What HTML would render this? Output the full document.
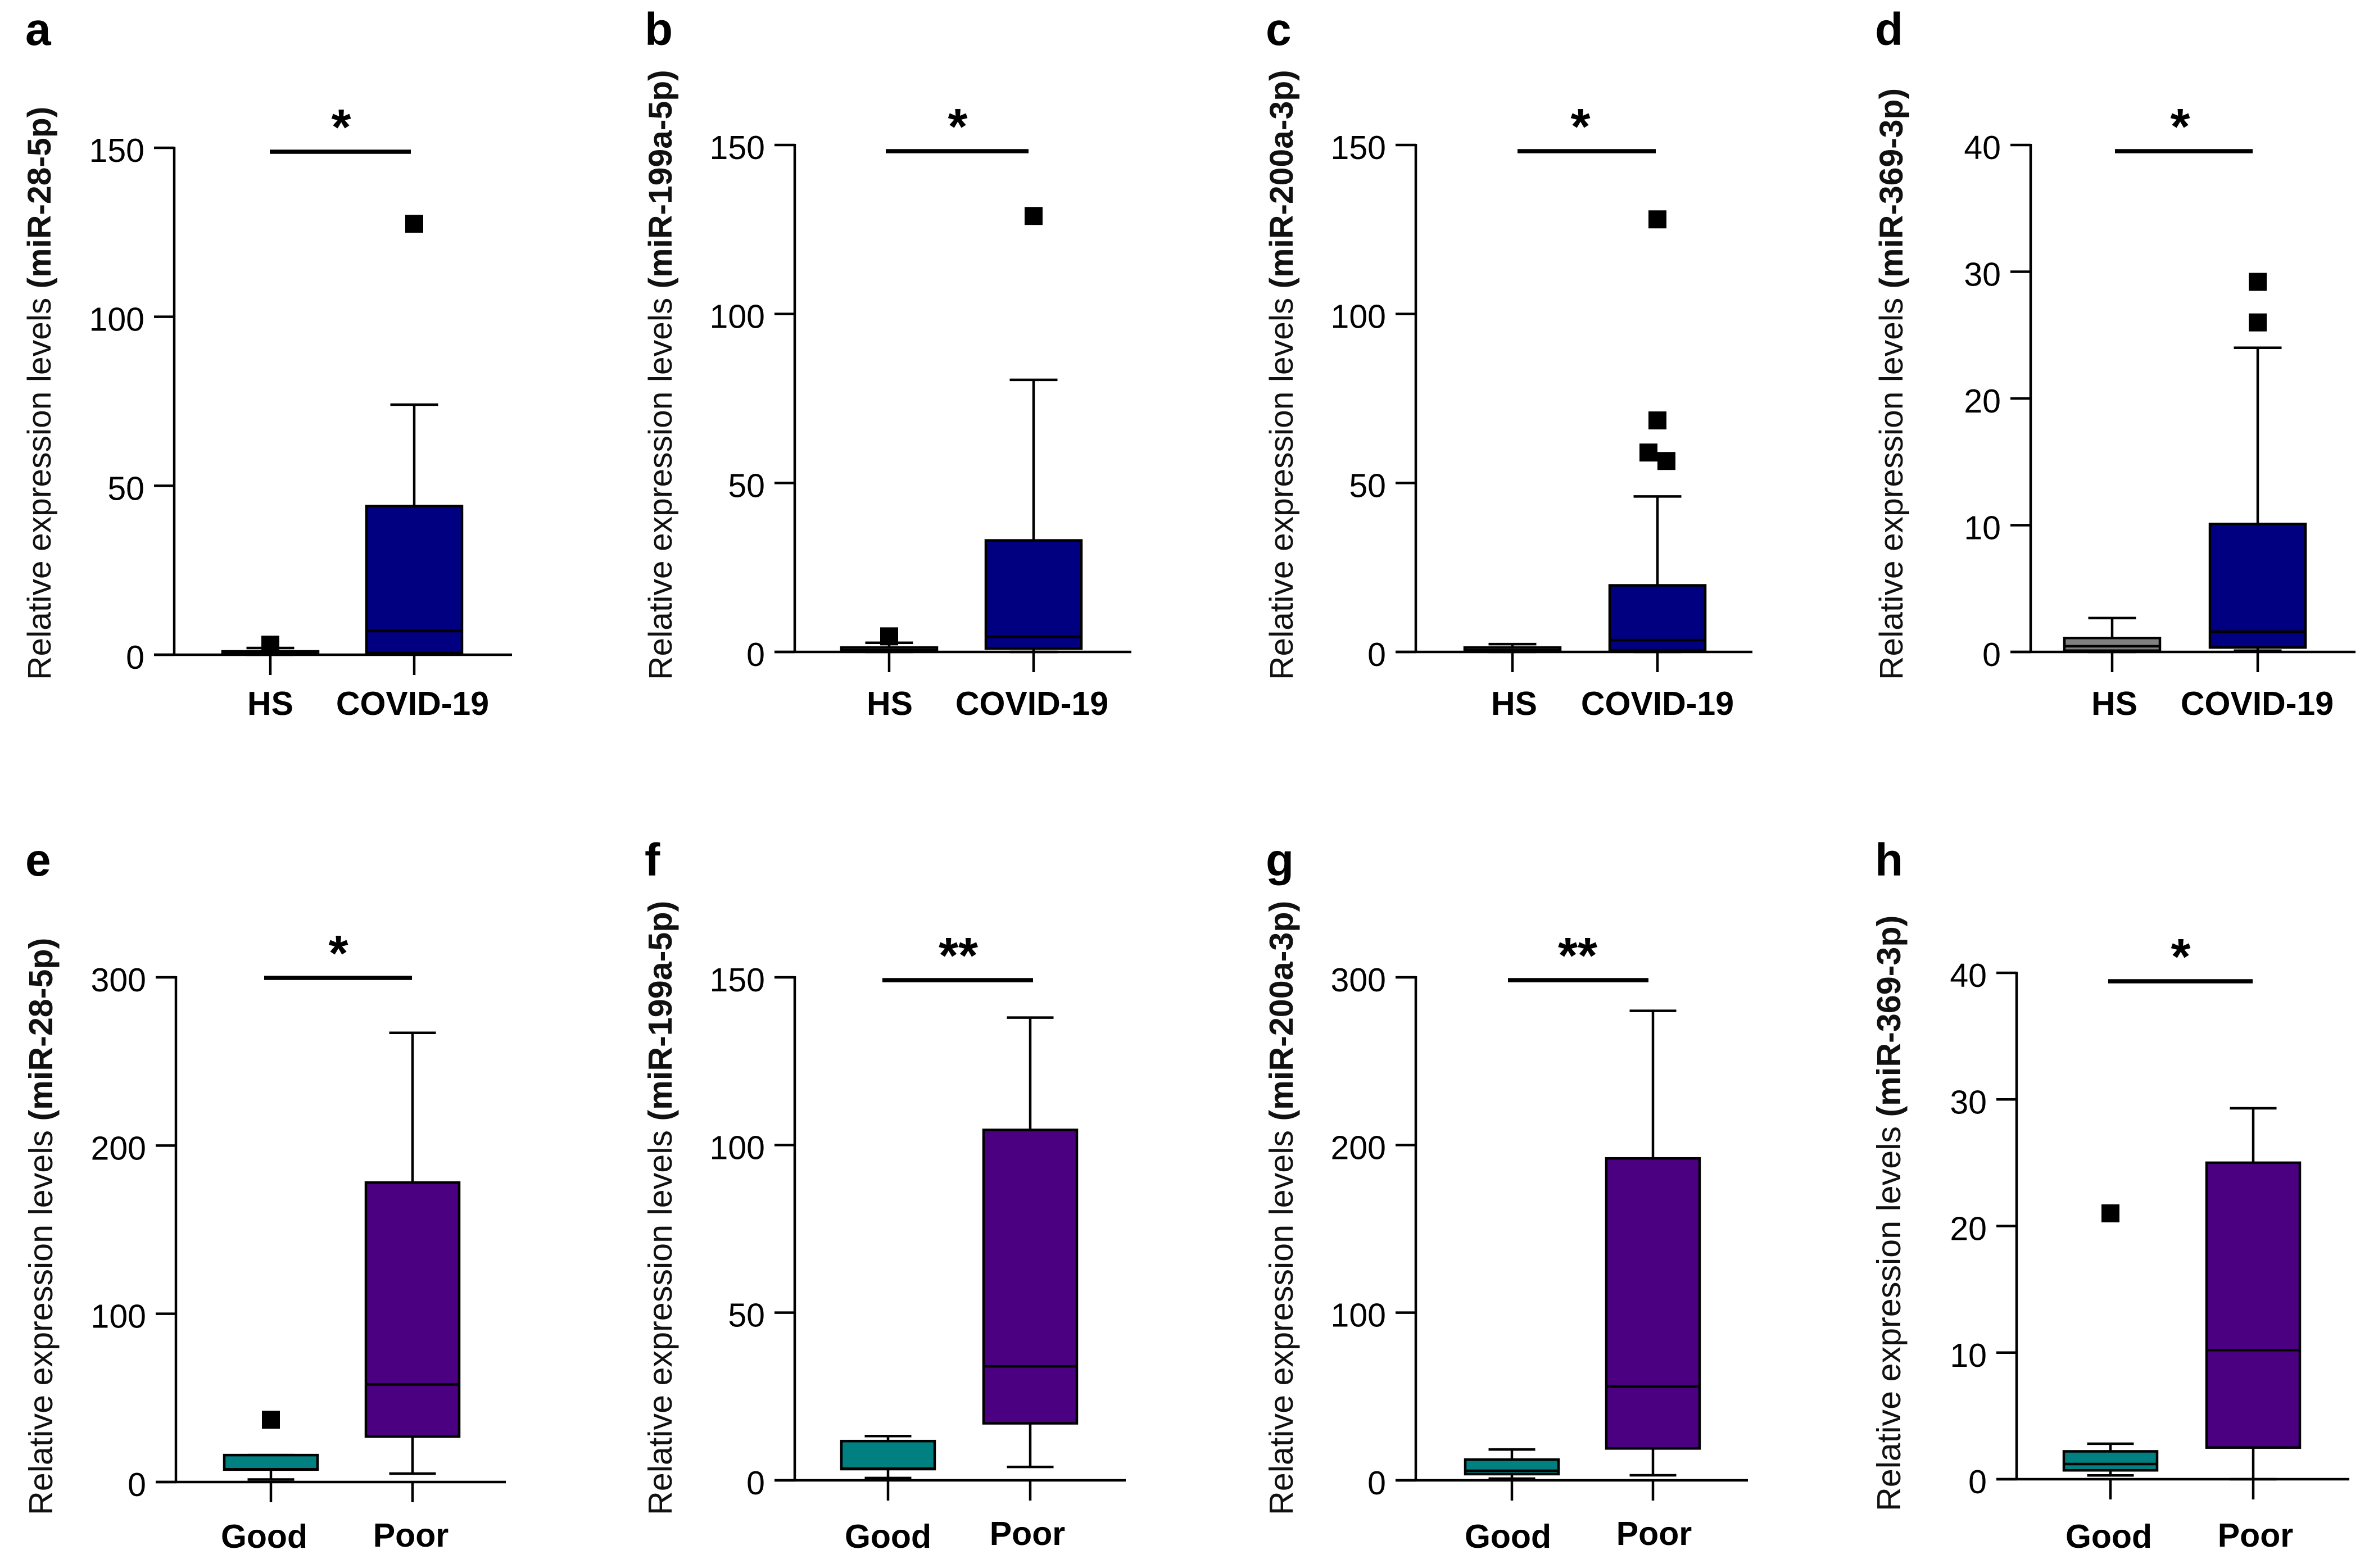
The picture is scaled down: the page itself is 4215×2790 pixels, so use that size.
<!DOCTYPE html>
<html lang="en">
<head>
<meta charset="utf-8">
<title>Relative expression levels of miRNAs</title>
<style>
html,body{margin:0;padding:0;background:#fff;width:4215px;height:2790px;overflow:hidden}
svg{display:block;font-family:"Liberation Sans",Arial,sans-serif}
</style>
</head>
<body>
<svg id="figure" xmlns="http://www.w3.org/2000/svg" width="4215" height="2790" viewBox="0 0 4215 2790"></svg>
<script>
// ---- chart data (one entry per panel, each holding [group 1, group 2]) ----
const panelLetters = ['a','b','c','d','e','f','g','h'];
const mirNames = ['miR-28-5p','miR-199a-5p','miR-200a-3p','miR-369-3p','miR-28-5p','miR-199a-5p','miR-200a-3p','miR-369-3p'];
const categories = [['HS','COVID-19'],['HS','COVID-19'],['HS','COVID-19'],['HS','COVID-19'],['Good','Poor'],['Good','Poor'],['Good','Poor'],['Good','Poor']];
const yTicks = [[0,50,100,150],[0,50,100,150],[0,50,100,150],[0,10,20,30,40],[0,100,200,300],[0,50,100,150],[0,100,200,300],[0,10,20,30,40]];
const whiskerLow = [[0,0.5],[0,0],[0,0],[0,0.1],[1.5,5],[0.7,4],[1,3],[0.3,0]];
const quartile1 = [[0.1,0.5],[0.1,1],[0.1,0.5],[0.1,0.35],[7.4,27],[3.35,17],[3.7,19],[0.7,2.5]];
const medians = [[0.5,7],[0.5,4.5],[0.5,3.5],[0.45,1.6],[7.6,58],[3.5,34],[5.7,56],[1.2,10.2]];
const quartile3 = [[1,44],[1.3,33],[1.3,19.7],[1.1,10.1],[16,178],[11.7,104.5],[12.4,192],[2.2,25]];
const whiskerHigh = [[2,74],[2.7,80.5],[2.3,46],[2.67,24],[16,267],[13.2,138],[18.4,280],[2.8,29.3]];
const outliers = [[[3],[127.5]],[[4.6],[129]],[[],[128,68.5,59,56.5]],[[],[29.2,26]],[[37],[]],[[],[]],[[],[]],[[21],[]]];
const significance = ['*','*','*','*','*','**','**','*'];

// ---- layout (pixel geometry, not data) ----
const layout = [
 {ax:310, top:263, y0:1165,right:911, c:[481,737], lx:[481,734], ly:[1272,1272],barL:480, barR:731, barY:270, star:607, tx:90,  tb:1210, fs:58.85},
 {ax:1414,top:258, y0:1160,right:2013,c:[1582,1839],lx:[1583,1836],ly:[1272,1272],barL:1576,barR:1830,barY:269,star:1704,tx:1195,tb:1210, fs:58.85},
 {ax:2519,top:258, y0:1160,right:3118,c:[2691,2949],lx:[2694,2949],ly:[1272,1272],barL:2700,barR:2946,barY:269,star:2812,tx:2300,tb:1210, fs:58.85},
 {ax:3613,top:258, y0:1160,right:4191,c:[3758,4017],lx:[3762,4016],ly:[1272,1272],barL:3763,barR:4008,barY:269,star:3879,tx:3385,tb:1210, fs:58.85},
 {ax:313, top:1739,y0:2637,right:900, c:[482,734], lx:[470,731], ly:[2754,2752],barL:470, barR:733, barY:1740,star:602, tx:93,  tb:2696, fs:59.25},
 {ax:1414,top:1739,y0:2634,right:2003,c:[1580,1833],lx:[1580,1828],ly:[2754,2749],barL:1570,barR:1838,barY:1744,star:1705,tx:1195,tb:2696, fs:59.25},
 {ax:2519,top:1739,y0:2634,right:3110,c:[2690,2941],lx:[2683,2943],ly:[2754,2749],barL:2683,barR:2933,barY:1744,star:2807,tx:2300,tb:2696, fs:59.25},
 {ax:3588,top:1731,y0:2632,right:4180,c:[3755,4009],lx:[3752,4013],ly:[2754,2752],barL:3751,barR:4008,barY:1746,star:3880,tx:3381,tb:2689, fs:59.25}
];
const letterPos = [[45,80],[1147,80],[2252,80],[3336,80],[45,1558],[1147,1558],[2252,1558],[3336,1558]];
const markerSize = 32, lineW = 4.5;
const groupFills = [['#808080','#000080'],['#808080','#000080'],['#808080','#000080'],['#808080','#000080'],['#008080','#4b0082'],['#008080','#4b0082'],['#008080','#4b0082'],['#008080','#4b0082']];

const NS = 'http://www.w3.org/2000/svg';
const fig = document.getElementById('figure');
function make(tag, parent, props){
  const e = document.createElementNS(NS, tag);
  for (const k in props) e.setAttribute(k, props[k]);
  parent.appendChild(e);
  return e;
}
function line(parent, x1, y1, x2, y2, w){
  return make('line', parent, {x1:x1, y1:y1, x2:x2, y2:y2, stroke:'#000', 'stroke-width':w || lineW});
}

panelLetters.forEach(function(letter, p){
  const L = layout[p];
  const ticks = yTicks[p];
  const yMax = ticks[ticks.length - 1];
  const yScale = function(v){ return L.y0 - (v / yMax) * (L.y0 - L.top); };
  const boxWidth = p < 4 ? 170 : 166;
  const capWidth = p < 4 ? 85 : 83;

  const g = make('g', fig, {});
  
  

  const lab = make('text', g, {x:letterPos[p][0], y:letterPos[p][1], 'font-size':82, 'font-weight':'bold', fill:'#000'});
  lab.textContent = letter;
  
  

  const title = make('text', g, {transform:'translate(' + L.tx + ' ' + L.tb + ') rotate(-90)', 'font-size':L.fs, fill:'#111'});
  
  
  const t1 = make('tspan', title, {});
  t1.textContent = 'Relative expression levels ';
  const t2 = make('tspan', title, {'font-weight':'bold'});
  t2.textContent = '(' + mirNames[p] + ')';

  const yAxis = line(g, L.ax, L.top - 2, L.ax, L.y0);
  
  
  const xAxis = line(g, L.ax - 36, L.y0, L.right, L.y0);
  
  

  ticks.forEach(function(t){
    const y = yScale(t);
    const tk = line(g, L.ax - 36, y, L.ax, y);
    
    
    const tl = make('text', g, {x:L.ax - 53, y:y + 25, 'text-anchor':'end', 'font-size':59, fill:'#000'});
    tl.textContent = t;
    
    
  });

  categories[p].forEach(function(cat, i){
    const cx = L.c[i];
    const grp = make('g', g, {});
    
    

    line(grp, cx, L.y0, cx, L.y0 + 36);

    const hi = yScale(whiskerHigh[p][i]);
    const lo = yScale(whiskerLow[p][i]);
    const q1 = yScale(quartile1[p][i]);
    const q3 = yScale(quartile3[p][i]);
    const med = yScale(medians[p][i]);

    const wh = line(grp, cx, hi, cx, lo);
    
    
    const capH = line(grp, cx - capWidth / 2, hi, cx + capWidth / 2, hi, 4.5);
    
    
    const capL = line(grp, cx - capWidth / 2, lo, cx + capWidth / 2, lo, 4.5);
    
    

    const box = make('rect', grp, {x:cx - boxWidth / 2, y:q3, width:boxWidth, height:Math.max(q1 - q3, 1), fill:groupFills[p][i], stroke:'#000', 'stroke-width':lineW});
    
    
    const mLine = line(grp, cx - boxWidth / 2, med, cx + boxWidth / 2, med, 4.5);
    
    

    // Outliers: points that would overlap are dodged sideways, as in the source figure
    const vals = outliers[p][i];
    vals.forEach(function(v, k){
      const y = yScale(v);
      let dx = 0;
      if (k > 0 && Math.abs(yScale(vals[k - 1]) - y) < markerSize) dx = 16;
      if (k < vals.length - 1 && Math.abs(yScale(vals[k + 1]) - y) < markerSize) dx = -16;
      const o = make('rect', grp, {x:cx + dx - markerSize / 2, y:y - markerSize / 2, width:markerSize, height:markerSize, fill:'#000'});
      
      
    });

    const cl = make('text', g, {x:L.lx[i], y:L.ly[i], 'text-anchor':'middle', 'font-size':59, 'font-weight':'bold', fill:'#000'});
    cl.textContent = cat;
    
    
  });

  const bar = line(g, L.barL, L.barY, L.barR, L.barY, 7.5);
  
  
  const star = make('text', g, {x:L.star, y:L.barY - 13, 'text-anchor':'middle', 'font-size':90, 'font-weight':'bold', fill:'#000'});
  star.textContent = significance[p];
  
  
});
</script>
</body>
</html>
